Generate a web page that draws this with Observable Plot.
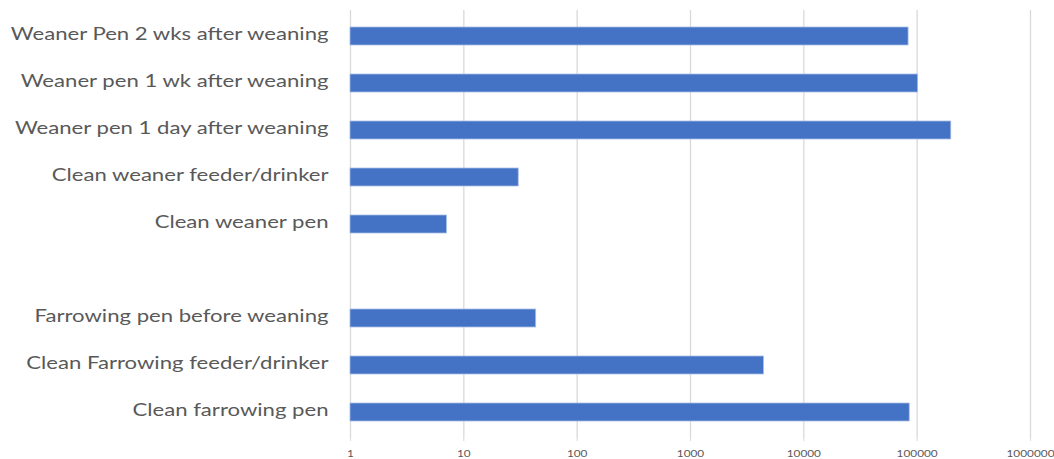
<!DOCTYPE html>
<html>
<head>
<meta charset="utf-8">
<script src="https://cdn.jsdelivr.net/npm/d3@7"></script>
<script src="https://cdn.jsdelivr.net/npm/@observablehq/plot@0.6"></script>
<style>
  html, body { margin: 0; padding: 0; background: #fff; }
</style>
</head>
<body>
<div id="chart"></div>
<script>
// Categories from top to bottom ("" = empty separator row)
const categories = [
  "Weaner Pen 2 wks after weaning",
  "Weaner pen 1 wk after weaning",
  "Weaner pen 1 day after weaning",
  "Clean weaner feeder/drinker",
  "Clean weaner pen",
  "",
  "Farrowing pen before weaning",
  "Clean Farrowing feeder/drinker",
  "Clean farrowing pen"
];
const values = [84000, 102000, 200000, 30.5, 7.1, null, 43.5, 4450, 86000];
const xTicks = [1, 10, 100, 1000, 10000, 100000, 1000000];

const data = categories
  .map((c, i) => ({category: c, value: values[i]}))
  .filter(d => d.value != null);

const chart = Plot.plot({
  width: 1054,
  height: 459,
  marginLeft: 350,
  marginRight: 24,
  marginTop: 10,
  marginBottom: 21,
  style: {fontFamily: "Lato, 'Open Sans', sans-serif", background: "#fff"},
  x: {type: "log", domain: [1, 1000000], range: [350, 1030]},
  y: {domain: categories, paddingInner: 0.62, paddingOuter: 0.31},
  marks: [
    Plot.ruleX(xTicks, {stroke: "#d9d9d9", strokeWidth: 1.3}),
    Plot.barX(data, {
      y: "category",
      x1: () => 1,
      x2: "value",
      fill: "#4472C4",
      stroke: "#a9bfe6",
      strokeWidth: 0.8
    }),
    Plot.axisX({
      ticks: xTicks,
      tickFormat: d => String(d),
      tickSize: 3,
      tickPadding: 9,
      stroke: "#d9d9d9",
      fill: "#595959",
      fontSize: 9.5,
      label: null
    }),
    Plot.axisY({
      tickSize: 0,
      tickPadding: 22,
      dy: -1.5,
      fill: "#595959",
      fontSize: 17,
      label: null
    })
  ]
});
document.getElementById("chart").appendChild(chart);

// The reference typography is horizontally wide; stretch tick labels to match.
function stretch(texts, s) {
  if (!isFinite(s) || s <= 0) return;
  texts.forEach(t => {
    let tr = t.getAttribute("transform") || "";
    const xa = t.getAttribute("x");
    if (xa != null && isFinite(+xa)) {
      tr += ` translate(${+xa},0)`;
      t.removeAttribute("x");
    }
    t.setAttribute("transform", `${tr} scale(${s},1)`);
  });
}
function textWidth(t) {
  try { return t.getComputedTextLength(); } catch (e) { return 0; }
}
const yTexts = Array.from(chart.querySelectorAll('g[aria-label="y-axis tick label"] text'));
const xTexts = Array.from(chart.querySelectorAll('g[aria-label="x-axis tick label"] text'));
const longest = yTexts.find(t => t.textContent === categories[0]);
let sy = longest ? 318 / textWidth(longest) : NaN;
if (!isFinite(sy) || sy < 0.8 || sy > 2) sy = 1.3;
const xl = xTexts.find(t => t.textContent === "1000000");
let sx = xl ? 48 / textWidth(xl) : NaN;
if (!isFinite(sx) || sx < 0.8 || sx > 2) sx = 1.25;
stretch(yTexts, sy);
stretch(xTexts, sx);
</script>
</body>
</html>
